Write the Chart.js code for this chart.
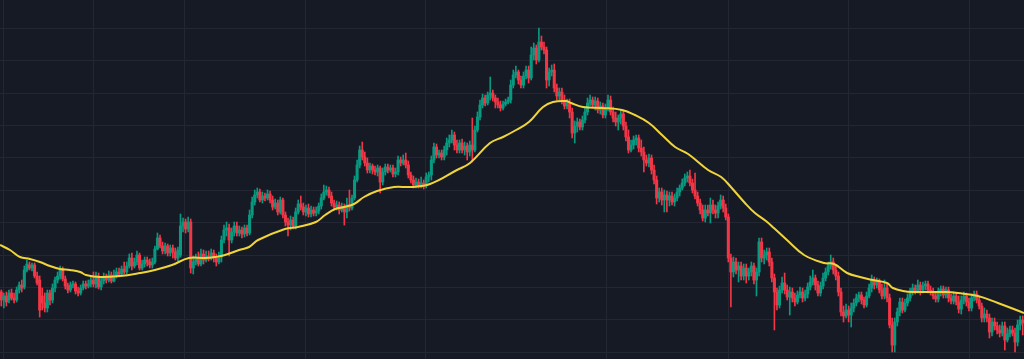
<!DOCTYPE html>
<html>
<head>
<meta charset="utf-8">
<script src="https://cdn.jsdelivr.net/npm/chart.js"></script>
<style>
  html, body { margin: 0; padding: 0; background: #161a25; }
  #wrap { width: 1024px; height: 359px; position: relative; }
</style>
</head>
<body>
<div id="wrap"><canvas id="chart"></canvas></div>
<script>
// OHLC per candle
const opens = [
  108,100,104,100,107,102,100,110,115,113, 130,135,132,135,124,120,104,97,92,107,
  100,112,120,124,130,121,114,110,115,116, 109,107,112,116,114,116,120,116,124,113,
  119,123,120,125,119,124,128,126,131,128, 134,142,134,138,145,132,136,140,138,135,
  138,151,162,154,149,154,147,152,148,142, 145,174,178,171,178,132,138,142,136,146,
  140,144,142,147,142,138,143,160,170,172, 160,168,174,167,170,166,172,167,185,198,
  205,208,200,204,202,206,200,193,197,188, 200,185,178,175,180,174,188,196,193,188,
  192,186,190,187,189,194,202,208,210,204, 197,193,195,190,192,188,195,192,202,220,
  235,250,243,237,230,234,230,228,232,218, 228,233,230,232,226,228,240,237,240,235,
  225,220,215,218,214,217,214,223,225,240, 253,245,247,243,250,257,260,265,255,250,
  257,250,254,248,255,250,270,283,295,302, 297,305,307,302,298,295,292,296,298,300,
  315,325,328,320,315,324,330,322,345,352, 340,358,353,350,320,328,330,312,304,308,
  300,294,297,288,267,274,278,273,280,288, 297,300,295,299,290,294,285,292,300,288,
  282,278,282,286,274,263,250,255,260,262, 252,248,240,237,242,230,220,202,208,200,
  205,200,204,198,202,208,212,217,222,224, 217,210,204,197,190,182,190,187,195,190,
  187,194,200,192,183,142,128,138,130,134, 124,132,124,128,134,120,128,158,142,145,
  148,138,122,108,95,110,117,110,103,108, 102,98,105,108,102,106,113,118,122,115,
  107,114,122,128,134,138,130,124,108,88, 84,90,85,92,97,102,105,100,95,104,
  112,120,115,118,110,104,112,102,75,55, 78,88,98,90,97,102,108,112,109,115,
  110,114,116,110,108,104,101,108,111,105, 110,102,99,104,98,91,100,104,98,92,
  102,106,100,94,82,86,82,68,78,74, 70,67,74,60,66,70,67,58,75,80
];
const highs = [
  110,107,108,110,111,107,113,118,120,134, 140,138,137,137,128,124,112,107,110,110,
  116,123,128,134,133,124,117,118,119,118, 113,115,119,119,120,124,128,128,127,123,
  127,126,129,128,130,132,132,134,138,138, 146,147,142,149,147,140,143,143,141,142,
  154,167,165,158,157,156,155,155,152,153, 186,182,181,183,181,144,146,148,151,150,
  149,149,151,150,146,148,164,175,178,176, 172,178,178,174,173,175,175,190,203,210,
  212,211,208,207,210,209,204,201,200,203, 202,188,182,184,183,192,200,204,197,195,
  196,194,193,193,197,206,215,214,213,208, 200,199,198,197,196,202,210,205,224,240,
  254,258,248,242,237,236,234,235,234,232, 236,236,235,235,232,244,243,245,247,239,
  228,224,222,221,223,220,227,228,244,257, 256,250,250,254,262,265,270,268,260,260,
  261,258,257,259,282,274,288,300,306,305, 308,323,310,305,302,299,299,301,303,320,
  330,334,330,324,328,334,334,353,357,355, 372,364,358,353,332,335,336,316,312,312,
  305,301,301,292,279,282,281,284,292,302, 305,303,303,302,298,297,296,305,304,293,
  288,285,290,289,278,270,260,264,265,265, 260,253,245,246,245,235,224,212,212,210,
  209,208,208,206,212,215,221,226,228,230, 221,227,208,201,195,195,195,202,200,195,
  198,205,204,196,186,146,143,142,138,138, 136,136,132,138,137,132,162,162,150,152,
  152,142,126,112,114,123,127,115,113,112, 107,109,113,112,110,117,124,130,125,119,
  118,127,132,138,145,142,134,128,112,94, 96,94,97,101,106,108,108,103,108,116,
  125,123,122,121,116,120,116,106,82,82, 92,102,102,101,106,112,116,115,120,118,
  118,119,119,114,112,108,112,114,114,113, 113,106,108,107,104,104,108,107,102,106,
  109,109,103,97,92,90,86,82,82,78, 75,78,78,72,74,74,72,80,84,84
];
const lows = [
  94,92,94,97,100,97,98,107,108,111, 128,130,129,122,115,83,90,88,88,95,
  97,108,117,121,119,111,107,108,112,106, 104,105,110,111,112,113,113,112,111,110,
  116,117,118,117,118,122,123,124,126,126, 132,130,132,135,130,130,133,134,132,132,
  136,150,152,146,146,144,144,142,140,139, 143,168,167,168,127,126,135,134,134,136,
  138,139,140,138,134,136,138,157,164,144, 157,164,164,164,162,163,164,165,182,195,
  202,198,197,199,200,197,190,191,185,186, 182,174,164,170,171,171,186,190,185,184,
  183,183,184,184,186,191,200,205,202,194, 190,190,186,188,175,182,189,190,200,218,
  232,240,234,227,227,226,225,224,207,215, 225,227,228,223,223,225,234,235,232,222,
  217,212,212,212,212,211,212,218,220,237, 242,242,240,240,245,253,257,250,247,247,
  247,245,240,244,238,248,268,280,292,294, 295,300,299,292,292,289,290,294,296,297,
  312,322,316,312,312,321,317,320,340,336, 338,350,346,312,314,324,308,300,300,296,
  291,291,282,262,257,268,270,270,277,285, 294,292,290,287,286,282,282,289,285,278,
  274,270,276,270,259,247,248,251,255,248, 244,228,234,233,226,216,196,198,195,188,
  188,194,195,194,199,204,210,214,218,214, 207,201,194,186,179,178,184,177,186,182,
  182,191,188,180,138,93,123,126,118,120, 120,117,120,124,116,104,124,138,136,140,
  134,118,70,90,92,107,106,100,85,98, 94,96,102,98,99,102,110,115,110,104,
  104,111,119,125,131,126,120,104,84,78, 82,78,73,88,94,98,96,92,93,102,
  108,111,112,107,101,101,98,72,48,48, 74,84,87,88,94,99,105,106,107,105,
  107,110,107,105,101,98,98,104,102,102, 98,96,96,95,87,86,96,94,89,89,
  99,97,91,78,78,78,62,64,70,66, 63,64,50,58,63,64,48,54,70,65
];
const closes = [
  100,104,98,107,102,100,110,115,112,130, 136,132,135,124,117,90,97,92,107,100,
  112,120,124,130,121,114,110,115,116,109, 107,112,116,114,116,120,116,124,113,119,
  123,120,125,119,124,128,126,131,128,134, 142,134,138,145,132,136,140,138,135,138,
  151,162,154,149,154,147,152,148,142,150, 174,178,171,178,132,138,142,136,146,140,
  144,142,147,142,138,143,160,170,172,160, 168,174,167,170,166,172,167,185,198,205,
  208,200,204,202,206,200,193,197,188,200, 185,178,175,180,174,188,196,193,188,192,
  186,190,187,189,194,202,208,210,204,197, 193,195,190,192,188,195,192,202,220,235,
  250,243,237,230,234,230,228,232,218,228, 233,230,232,226,228,240,237,240,235,225,
  220,215,218,214,217,214,223,225,240,253, 245,247,243,250,257,260,265,255,250,257,
  250,254,248,255,250,270,283,295,302,297, 305,307,302,298,295,292,296,298,300,315,
  325,328,320,315,324,330,322,345,352,340, 358,353,350,320,328,330,312,304,308,300,
  294,297,288,267,274,278,273,280,288,297, 300,295,299,290,294,285,292,300,288,282,
  278,282,286,274,263,250,255,260,262,252, 248,240,237,242,230,220,202,208,200,205,
  200,204,198,202,208,212,217,222,224,217, 210,204,197,190,182,190,187,195,190,187,
  194,200,192,183,142,128,138,130,134,124, 132,124,128,134,120,128,158,142,145,148,
  138,122,108,95,110,117,110,103,108,102, 98,105,108,102,106,113,118,122,115,107,
  114,122,128,134,138,130,124,108,88,84, 90,85,92,97,102,105,100,95,104,112,
  120,115,118,110,104,112,102,75,55,78, 88,98,90,97,102,108,112,109,115,110,
  114,116,110,108,104,101,108,111,105,110, 102,99,104,98,91,100,104,98,92,102,
  106,100,94,82,86,82,68,78,74,70, 67,74,60,66,70,67,58,75,80,77
];

// moving average line, sampled at candle positions
const maAt = [
  -0.5,3.4,7.3,11.2,15.1,19.0,22.9,26.8,30.8,33.1,38.6,46.4,54.2,60.0,66.7,73.3,79.6,83.5,87.4,92.9,
  96.8,100.3,110.8,115.9,122.9,126.5,130.4,133.9,137.8,141.7,146.8,153.4,160.1,167.5,178.0,183.1,190.9,196.0,201.1,206.1,
  211.6,215.5,220.6,222.6,227.2,234.7,242.5,247.5,253.0,258.1,263.2,268.3,276.1,281.2,285.0,290.5,294.4,298.7,301.8,306.9,
  313.6,321.4,325.3,330.4,335.4,340.5,346.0,348.3,352.2,356.2,369.0,373.7,381.5,389.3,399.5
];
const maValues = [
  155,150,143,141,138,134,131,130,128,125,123,124,127,130,135,142,142,143,145,150,
  153,160,171,173,178,185,191,193,196,203,209,213,213,216,230,237,257,263,270,278,
  293,298,299,297,293,292,290,285,277,265,253,246,230,223,213,197,187,179,172,160,
  145,137,136,127,123,120,117,112,109,108,108,107,104,97,87
];

// grid: price levels and the candles where time ticks fall
const priceLevels = [47.7, 80.1, 112.5, 144.9, 177.3, 209.7, 242.1, 274.5, 306.9, 339.3, 371.7];
const timeTicks = [0.7, 36.2, 71.4, 119.0, 165.9, 236.6, 283.9, 330.8, 378.4];

const UP = '#089981';
const DOWN = '#f23645';
const GRID = '#232733';

const candleColors = closes.map((c, i) => c >= opens[i] ? UP : DOWN);
const labels = closes.map((_, i) => i);

new Chart(document.getElementById('chart'), {
  type: 'bar',
  data: {
    labels,
    datasets: [
      {
        type: 'line',
        label: 'MA',
        data: maAt.map((x, i) => ({ x, y: maValues[i] })),
        xAxisID: 'xt',
        borderColor: '#f0d43a',
        borderWidth: 2,
        pointRadius: 0,
        tension: 0.4,
        order: 0
      },
      {
        label: 'body',
        data: opens.map((o, i) => [o, closes[i]]),
        backgroundColor: candleColors,
        barThickness: 2.4,
        minBarLength: 1,
        grouped: false,
        order: 1
      },
      {
        label: 'wick',
        data: lows.map((l, i) => [l, highs[i]]),
        backgroundColor: candleColors,
        barThickness: 1,
        grouped: false,
        order: 2
      }
    ]
  },
  options: {
    responsive: true,
    maintainAspectRatio: false,
    animation: false,
    layout: { padding: 0 },
    plugins: { legend: { display: false }, tooltip: { enabled: false } },
    scales: {
      x: { type: 'category', display: false },
      xt: {
        type: 'linear',
        position: 'bottom',
        offset: false,
        min: -0.5,
        max: closes.length - 0.5,
        ticks: { display: false },
        border: { display: false },
        grid: { color: GRID, drawTicks: false, offset: false },
        afterBuildTicks: axis => { axis.ticks = timeTicks.map(v => ({ value: v })); }
      },
      y: {
        min: 41,
        max: 400,
        ticks: { display: false },
        border: { display: false },
        grid: { color: GRID, drawTicks: false },
        afterBuildTicks: axis => { axis.ticks = priceLevels.map(v => ({ value: v })); }
      }
    }
  }
});
</script>
</body>
</html>
